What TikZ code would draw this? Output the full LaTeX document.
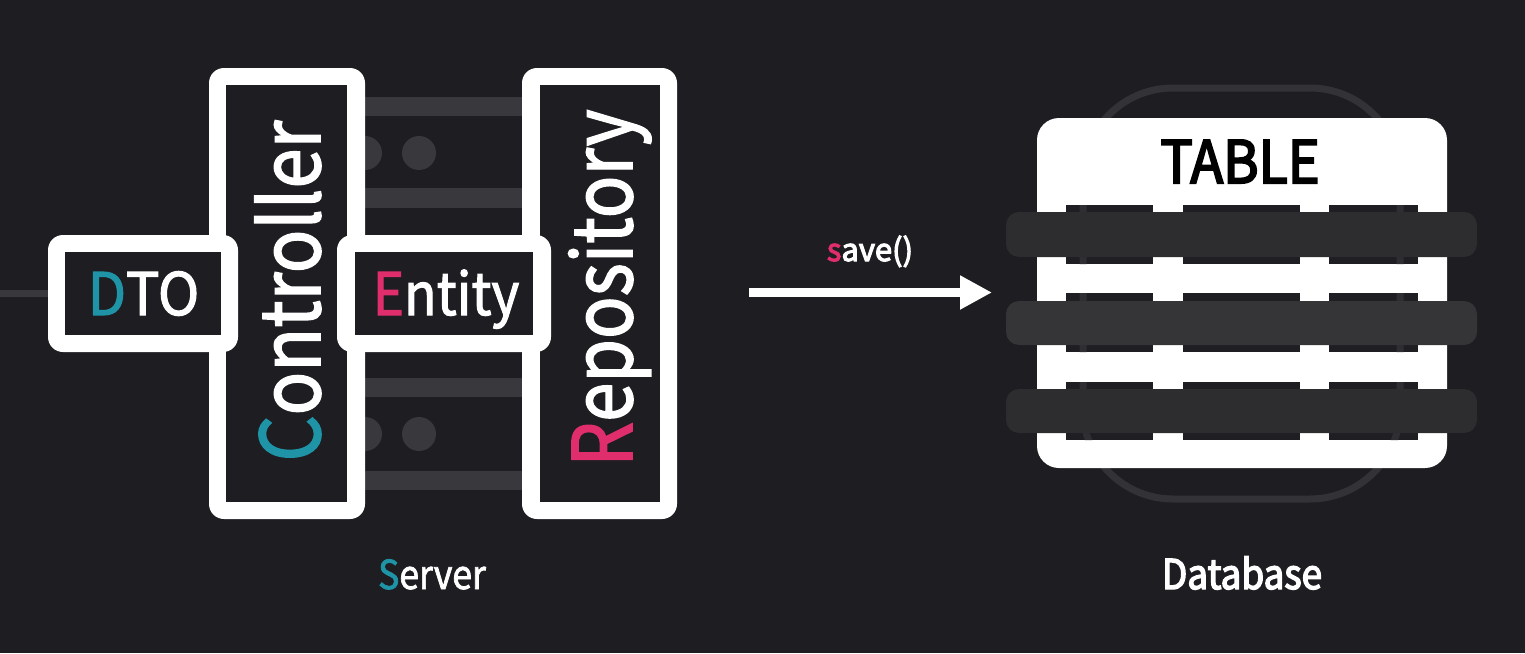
\documentclass[tikz,border=0pt]{standalone}
\usepackage{fontspec}
\setmainfont{Noto Sans CJK KR}
\newfontfamily\medfont{Noto Sans CJK KR}[FakeBold=2]
\newfontfamily\semifont{Noto Sans CJK KR}[FakeBold=3.5]
\usetikzlibrary{arrows.meta}
\definecolor{bg}{HTML}{1D1D22}
\definecolor{rack}{HTML}{38383D}
\definecolor{accteal}{HTML}{1E94A6}
\definecolor{accpink}{HTML}{E02E6C}
\definecolor{cell}{HTML}{1F1F23}
\definecolor{rowbar}{HTML}{2D2D30}
\definecolor{rowbarmid}{HTML}{353538}
\definecolor{ring}{HTML}{333337}
\tikzset{
  outerbox/.style={fill=white, rounded corners=15pt, inner sep=0pt, outer sep=0pt},
  innerbox/.style={fill=bg, inner sep=0pt, outer sep=0pt},
  lbl/.style={text=white, inner sep=0pt, anchor=base, font=\medfont},
  rackbar/.style={fill=rack},
  rackdot/.style={fill=rack, circle, minimum size=34pt, inner sep=0pt},
}
\newcommand{\fsz}[1]{\fontsize{#1}{#1}\selectfont}
\newcommand{\sx}[2]{\scalebox{#1}[1]{#2}}
\begin{document}
\begin{tikzpicture}[x=1pt,y=-1pt]
\fill[bg] (0,0) rectangle (1525,653);
\useasboundingbox (0,0) rectangle (1525,653);

% server rack background
\fill[rackbar] (340,97) rectangle (545,116);
\fill[rackbar] (340,188) rectangle (545,208);
\fill[rackbar] (340,378) rectangle (545,397);
\fill[rackbar] (340,471) rectangle (545,490);
\node[rackdot] (d1) at (365,153) {};
\node[rackdot] (d2) at (419,153) {};
\node[rackdot] (d3) at (365,434) {};
\node[rackdot] (d4) at (419,434) {};

% controller
\node[outerbox, minimum width=156pt, minimum height=451pt] (ctrlo) at (287,293.5) {};
\node[innerbox, minimum width=121pt, minimum height=417pt] (ctrli) at (286.5,293.5) {};
% repository
\node[outerbox, minimum width=155pt, minimum height=451pt] (repoo) at (599.5,293.5) {};
\node[innerbox, minimum width=120pt, minimum height=417pt] (repoi) at (600,293.5) {};
% DTO
\node[outerbox, minimum width=190pt, minimum height=117pt] (dtoo) at (143,293.5) {};
\node[innerbox, minimum width=156pt, minimum height=83pt] (dtoi) at (143,293.5) {};
% Entity
\node[outerbox, minimum width=214pt, minimum height=117pt] (ento) at (444,293.5) {};
\node[innerbox, minimum width=178pt, minimum height=83pt] (enti) at (444,293.5) {};

% left line
\coordinate (lstart) at (0,293.5);
\draw[rack, line width=7pt] (lstart) -- (dtoo.west);

% texts
\node[lbl] (tdto) at (143.5,315) {\fsz{58.6}\sx{0.95}{{\color{accteal}D}TO}};
\node[lbl] (tent) at (446,315) {\fsz{58.6}\sx{0.91}{{\color{accpink}E}ntity}};
\node[lbl, rotate=90] (tctrl) at (320,291) {\fsz{82}\sx{0.88}{{\color{accteal}C}ontroller}};
\node[lbl, rotate=90] (trepo) at (632,288) {\fsz{82}\sx{0.86}{{\color{accpink}R}epository}};

% arrow
\coordinate (astart) at (749,292.5);
\coordinate (aend) at (992,292.5);
\draw[white, line width=9pt, -{Triangle[length=32pt,width=32pt]}] (astart) -- (aend);
\node[lbl, font=\semifont] (tsave) at (870,261) {\fsz{31}{\color{accpink}s}ave()};

% database
\draw[ring, line width=7pt, rounded corners=90pt] (1083,88) rectangle (1400,499);
\fill[white, rounded corners=22pt] (1037,118) rectangle (1447,468);
\node[lbl, text=black, font=\semifont] (ttable) at (1240,183) {\fsz{58.6}\sx{0.92}{TABLE}};
\foreach \ya/\yb in {205/264, 293/352, 382/440}{
  \fill[cell] (1066,\ya) rectangle (1153,\yb);
  \fill[cell] (1183,\ya) rectangle (1300,\yb);
  \fill[cell] (1329,\ya) rectangle (1418,\yb);
}
\begin{scope}
  \clip (1066,205) rectangle (1153,264) (1329,205) rectangle (1418,264)
        (1066,293) rectangle (1153,352) (1329,293) rectangle (1418,352)
        (1066,382) rectangle (1153,440) (1329,382) rectangle (1418,440);
  \draw[ring!80!bg, line width=7pt, rounded corners=90pt] (1083,88) rectangle (1400,499);
\end{scope}
\fill[rowbar, rounded corners=13pt] (1006,212) rectangle (1477,257);
\fill[rowbarmid, rounded corners=13pt] (1006,301) rectangle (1477,345);
\fill[rowbar, rounded corners=13pt] (1006,389) rectangle (1477,433);

% captions
\node[lbl] (tserver) at (432,589) {\fsz{40}\sx{0.89}{{\color{accteal}S}erver}};
\node[lbl, font=\semifont] (tdb) at (1242,589) {\fsz{41}\sx{0.9}{Database}};
\end{tikzpicture}
\end{document}
